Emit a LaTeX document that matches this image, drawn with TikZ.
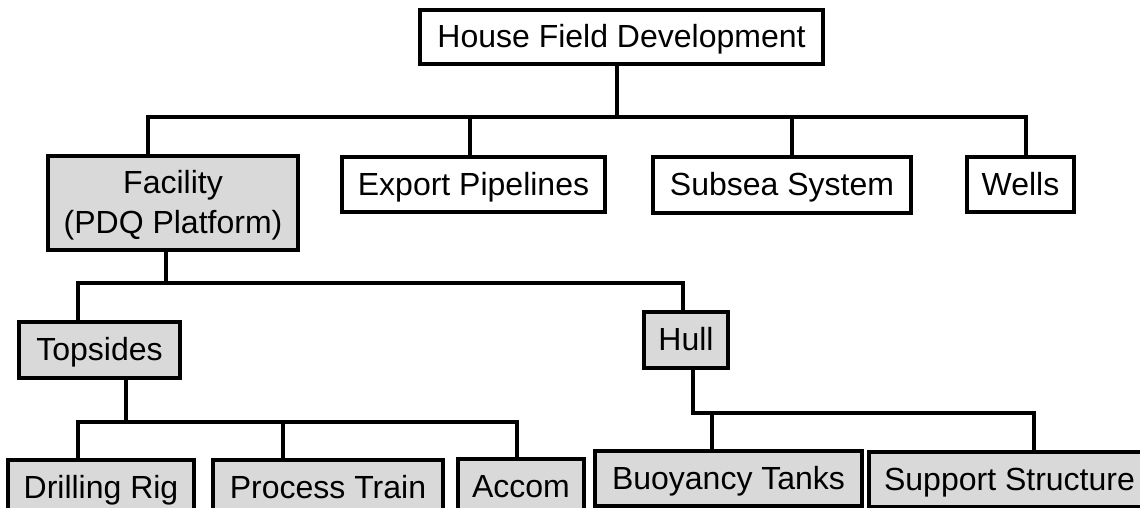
\documentclass[tikz,border=0pt]{standalone}
\usepackage{fontspec}
\setmainfont{Liberation Sans}
\begin{document}
\begin{tikzpicture}[x=1pt,y=-1pt,
  box/.style={draw=black,line width=3.4pt,fill=white,inner sep=0pt,
    align=center,font=\fontsize{32}{40}\selectfont,
    text height=25pt,text depth=4pt},
  shaded/.style={box,fill=gray!30},
  link/.style={draw=black,line width=3.2pt}]
\useasboundingbox (0,0) rectangle (1140,508);
\clip (0,0) rectangle (1140,508);
\fill[white] (0,0) rectangle (1140,508);

% level 0
\node[box,minimum width=403,minimum height=54] (root) at (621.5,37) {House Field Development};
% level 1
\node[shaded,minimum width=250,minimum height=94,text height=66pt,text depth=6pt] (fac) at (173,203) {Facility\\(PDQ Platform)};
\node[box,minimum width=263,minimum height=55] (exp) at (473.5,184.5) {Export Pipelines};
\node[box,minimum width=258,minimum height=56] (sub) at (782,185) {Subsea System};
\node[box,minimum width=107,minimum height=55] (wells) at (1020.5,184.5) {Wells};
% level 2
\node[shaded,minimum width=161,minimum height=56] (top) at (99.5,350) {Topsides};
\node[shaded,minimum width=84,minimum height=56] (hull) at (686,340) {Hull};
% level 3
\node[shaded,minimum width=186,minimum height=55] (drill) at (101,487.5) {Drilling Rig};
\node[shaded,minimum width=230,minimum height=55] (proc) at (328,487.5) {Process Train};
\node[shaded,minimum width=126,minimum height=55] (accom) at (521,486.5) {Accom};
\node[shaded,minimum width=267,minimum height=55] (buoy) at (728.5,478.5) {Buoyancy Tanks};
\node[shaded,minimum width=281,minimum height=55] (supp) at (1009.5,479.5) {Support Structure};

% bus levels
\coordinate (y1) at (0,117);
\coordinate (y2) at (0,283);
\coordinate (y3) at (0,422);
\coordinate (y4) at (0,413);

% drop points on the boxes
\coordinate (r0) at ([xshift=-4.5]root.south);
\coordinate (f1) at ([xshift=-25]fac.north);
\coordinate (e1) at ([xshift=-3.5]exp.north);
\coordinate (s1) at ([xshift=10]sub.north);
\coordinate (w1) at ([xshift=5.5]wells.north);
\coordinate (f0) at ([xshift=-7]fac.south);
\coordinate (t1) at ([xshift=-21.5]top.north);
\coordinate (h1) at ([xshift=-3]hull.north);
\coordinate (t0) at ([xshift=26.5]top.south);
\coordinate (d1) at ([xshift=-23]drill.north);
\coordinate (p1) at ([xshift=-45]proc.north);
\coordinate (a1) at ([xshift=-4]accom.north);
\coordinate (h0) at ([xshift=7]hull.south);
\coordinate (b1) at ([xshift=-16.5]buoy.north);
\coordinate (u1) at ([xshift=24.5]supp.north);

% connectors
\foreach \c in {f1,e1,s1,w1}
  \draw[link] (r0) -- (r0 |- y1) -| (\c);
\foreach \c in {t1,h1}
  \draw[link] (f0) -- (f0 |- y2) -| (\c);
\foreach \c in {d1,p1,a1}
  \draw[link] (t0) -- (t0 |- y3) -| (\c);
\foreach \c in {b1,u1}
  \draw[link] (h0) -- (h0 |- y4) -| (\c);
\end{tikzpicture}
\end{document}
